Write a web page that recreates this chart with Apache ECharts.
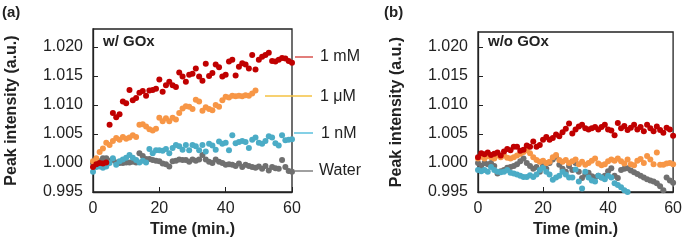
<!DOCTYPE html>
<html>
<head>
<meta charset="utf-8">
<script src="https://cdn.jsdelivr.net/npm/echarts@6/dist/echarts.min.js"></script>
<style>
  html, body { margin: 0; padding: 0; background: #fff; }
  #chart { width: 685px; height: 243px; }
</style>
</head>
<body>
<div id="chart"></div>
<script>
// time points (min.)
var minutes = [0,1,2,3,4,5,6,7,8,9,10,11,12,13,14,15,16,17,18,19,20,
  21,22,23,24,25,26,27,28,29,30,31,32,33,34,35,36,37,38,39,40,
  41,42,43,44,45,46,47,48,49,50,51,52,53,54,55,56,57,58,59,60];

// (a) w/ GOx
var gox_1mM = [0.9993,0.9998,1.0000,0.9999,1.0001,1.0066,1.0086,1.0079,1.0084,1.0106,1.0103,
  1.0126,1.0108,1.0112,1.0121,1.0124,1.0116,1.0125,1.0126,1.0128,1.0144,
  1.0123,1.0134,1.0140,1.0134,1.0131,1.0156,1.0149,1.0140,1.0152,1.0154,
  1.0163,1.0149,1.0142,1.0171,1.0150,1.0155,1.0170,1.0165,1.0149,1.0152,
  1.0175,1.0178,1.0151,1.0166,1.0172,1.0170,1.0163,1.0186,1.0161,1.0178,
  1.0183,1.0186,1.0190,1.0176,1.0175,1.0178,1.0181,1.0180,1.0176,1.0173];
var gox_1uM = [1.0003,1.0008,1.0019,1.0025,1.0035,1.0031,1.0038,1.0043,1.0040,1.0045,1.0042,
  1.0044,1.0048,1.0045,1.0066,1.0067,1.0063,1.0058,1.0056,1.0059,1.0078,
  1.0072,1.0077,1.0072,1.0078,1.0075,1.0086,1.0094,1.0098,1.0097,1.0093,
  1.0109,1.0106,1.0090,1.0096,1.0093,1.0091,1.0100,1.0097,1.0108,1.0114,
  1.0113,1.0116,1.0115,1.0116,1.0115,1.0117,1.0116,1.0120,1.0125];
var gox_1nM = [0.9985,0.9993,0.9994,0.9992,0.9994,1.0000,1.0008,0.9997,1.0003,1.0006,1.0009,
  1.0014,1.0009,1.0005,1.0001,1.0004,1.0001,1.0024,1.0017,1.0022,1.0022,
  1.0021,1.0024,1.0017,1.0026,1.0031,1.0029,1.0023,1.0031,1.0022,1.0031,
  1.0029,1.0022,1.0031,1.0020,1.0033,1.0030,1.0023,1.0037,1.0033,1.0035,
  1.0022,1.0048,1.0034,1.0036,1.0038,1.0036,1.0026,1.0040,1.0044,1.0035,
  1.0033,1.0038,1.0046,1.0044,1.0034,1.0030,1.0048,1.0039,1.0040,1.0041];
var gox_water = [1.0000,0.9998,1.0003,1.0008,1.0008,1.0004,1.0005,1.0001,1.0000,1.0000,1.0001,
  1.0001,1.0002,1.0001,1.0017,1.0012,1.0007,1.0007,1.0005,1.0004,1.0003,
  0.9999,0.9998,0.9994,1.0003,1.0004,1.0006,1.0005,1.0005,1.0002,1.0006,
  1.0004,1.0006,1.0014,1.0006,1.0002,1.0000,1.0006,1.0002,1.0000,0.9997,
  0.9998,0.9997,0.9995,0.9999,0.9993,0.9997,0.9995,0.9993,0.9992,0.9994,
  0.9990,0.9995,0.9987,0.9993,0.9991,0.9990,1.0005,0.9993,0.9986,0.9985];

// (b) w/o GOx
var nogox_1mM = [1.0010,1.0017,1.0015,1.0018,1.0014,1.0016,1.0018,1.0013,1.0020,1.0024,1.0022,
  1.0028,1.0028,1.0021,1.0023,1.0030,1.0028,1.0037,1.0028,1.0031,1.0040,
  1.0045,1.0040,1.0043,1.0049,1.0046,1.0053,1.0059,1.0068,1.0051,1.0058,
  1.0063,1.0066,1.0060,1.0058,1.0060,1.0062,1.0058,1.0062,1.0066,1.0058,
  1.0056,1.0048,1.0069,1.0060,1.0064,1.0057,1.0061,1.0066,1.0058,1.0062,
  1.0055,1.0066,1.0060,1.0055,1.0063,1.0057,1.0052,1.0061,1.0058,1.0047];
var nogox_1uM = [1.0008,1.0011,1.0008,1.0012,1.0010,1.0008,1.0013,1.0010,1.0013,1.0009,1.0008,
  1.0010,1.0013,1.0016,1.0019,1.0022,1.0017,1.0010,1.0005,1.0002,1.0004,
  1.0000,1.0002,1.0010,1.0014,1.0005,1.0002,1.0005,1.0000,1.0003,1.0006,
  0.9998,1.0002,0.9997,1.0000,1.0004,1.0008,0.9999,0.9996,0.9998,1.0003,
  1.0006,1.0004,1.0008,1.0003,0.9999,1.0006,0.9998,0.9996,1.0004,1.0007,
  1.0000,1.0012,1.0006,0.9998,1.0018,0.9997,0.9997,0.9999,1.0000,0.9998];
var nogox_1nM = [0.9988,0.9986,0.9988,0.9985,0.9993,0.9988,0.9985,0.9984,0.9985,0.9988,0.9983,
  0.9982,0.9980,0.9978,0.9976,0.9976,0.9979,0.9976,0.9980,0.9988,0.9992,
  0.9985,0.9980,0.9971,0.9975,0.9978,0.9985,0.9980,0.9975,0.9975,0.9989,
  0.9968,0.9956,0.9985,0.9975,0.9970,0.9968,0.9978,0.9975,0.9972,0.9978,
  0.9975,0.9965,0.9962,0.9958,0.9953,0.9950];
var nogox_water = [1.0000,0.9995,1.0000,0.9998,1.0000,0.9995,0.9982,0.9986,0.9988,0.9992,0.9993,
  0.9995,0.9998,1.0003,1.0008,1.0000,0.9995,0.9990,0.9993,0.9985,0.9995,
  0.9990,1.0000,1.0006,1.0011,0.9997,0.9990,0.9985,0.9995,0.9988,1.0000,
  0.9985,0.9974,0.9980,0.9983,0.9977,0.9975,0.9978,0.9975,0.9978,0.9986,
  0.9991,0.9978,0.9974,0.9988,0.9990,0.9991,0.9987,0.9984,0.9981,0.9978,
  0.9975,0.9972,0.9970,0.9968,0.9965,0.9960,0.9953,0.9975,0.9970,0.9966];

var colors = { mM: "#c00000", uM: "#f79646", nM: "#4bacc6", water: "#707070" };

function pairs(vals) {
  return vals.map(function (v, i) { return [minutes[i], v]; });
}

function dots(vals, color, idx) {
  return {
    type: "scatter",
    xAxisIndex: idx,
    yAxisIndex: idx,
    data: pairs(vals),
    symbolSize: 6,
    itemStyle: { color: color, opacity: 1 },
    silent: true
  };
}

function makeX(idx) {
  return {
    gridIndex: idx,
    type: "value",
    min: 0,
    max: 60,
    interval: 20,
    axisLine: { show: true, lineStyle: { color: "#222", width: 1.3 } },
    axisTick: { show: true, inside: true, length: 5, lineStyle: { color: "#222" } },
    axisLabel: { fontSize: 16, color: "#222", margin: 9, fontFamily: "Liberation Sans" },
    splitLine: { show: false },
    name: "Time (min.)",
    nameLocation: "middle",
    nameGap: 30,
    nameTextStyle: { fontSize: 16, fontWeight: "bold", color: "#222", fontFamily: "Liberation Sans" }
  };
}

function makeY(idx, top) {
  return {
    gridIndex: idx,
    type: "value",
    min: 0.995,
    max: top,
    interval: 0.005,
    axisLine: { show: true, lineStyle: { color: "#222", width: 1.3 } },
    axisTick: { show: true, inside: true, length: 5, lineStyle: { color: "#222" } },
    axisLabel: {
      fontSize: 16, color: "#222", margin: 10, fontFamily: "Liberation Sans",
      showMaxLabel: false,
      formatter: function (v) { return v.toFixed(3); }
    },
    splitLine: { show: false },
    name: "Peak intensity (a.u.)",
    nameLocation: "middle",
    nameGap: 73,
    nameTextStyle: { fontSize: 16, fontWeight: "bold", color: "#222", fontFamily: "Liberation Sans" }
  };
}

function label(text, x, y, bold) {
  return {
    type: "text",
    x: x,
    y: y,
    style: {
      text: text,
      fill: "#222",
      font: (bold ? "bold " : "") + (bold ? "15px" : "16px") + " 'Liberation Sans'",
      verticalAlign: "middle"
    },
    silent: true
  };
}

function keyLine(x1, x2, y, color) {
  return {
    type: "line",
    shape: { x1: x1, y1: y, x2: x2, y2: y },
    style: { stroke: color, lineWidth: 1.5 },
    silent: true
  };
}

var chart = echarts.init(document.getElementById("chart"), null, { renderer: "canvas" });

var option = {
  animation: false,
  backgroundColor: "#fff",
  grid: [
    { left: 93, top: 29, width: 199, height: 163, show: true, borderColor: "#222", borderWidth: 1.3 },
    { left: 478, top: 32, width: 199, height: 160, show: true, borderColor: "#222", borderWidth: 1.3 }
  ],
  xAxis: [makeX(0), makeX(1)],
  yAxis: [makeY(0, 1.0231), makeY(1, 1.0226)],
  series: [
    dots(gox_water, colors.water, 0),
    dots(gox_1nM, colors.nM, 0),
    dots(gox_1uM, colors.uM, 0),
    dots(gox_1mM, colors.mM, 0),
    dots(nogox_water, colors.water, 1),
    dots(nogox_1nM, colors.nM, 1),
    dots(nogox_1uM, colors.uM, 1),
    dots(nogox_1mM, colors.mM, 1)
  ],
  graphic: [
    label("(a)", 2, 13, true),
    label("(b)", 384, 13, true),
    label("w/ GOx", 103, 42, true),
    label("w/o GOx", 488, 42, true),
    keyLine(295, 313, 57, "#d9534f"),
    keyLine(265, 312, 96, "#f5c242"),
    keyLine(294, 313, 133, "#5bc0de"),
    keyLine(295, 313, 171, "#808080"),
    label("1 mM", 320, 57, false),
    label("1 \u03bcM", 320, 97, false),
    label("1 nM", 321, 134, false),
    label("Water", 319, 171, false)
  ]
};

chart.setOption(option);
</script>
</body>
</html>
